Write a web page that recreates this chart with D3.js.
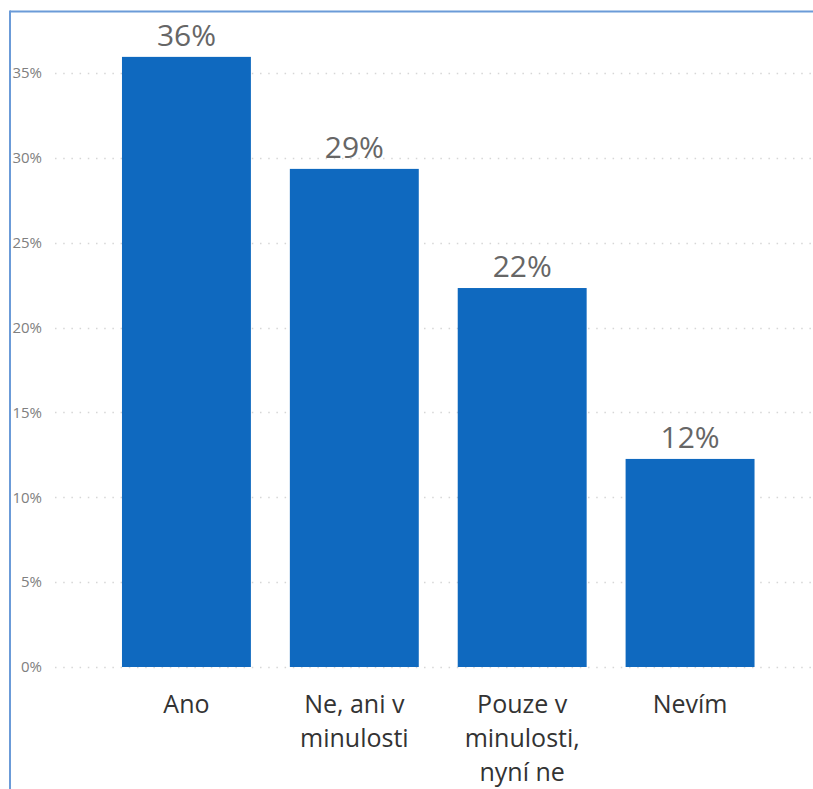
<!DOCTYPE html>
<html>
<head>
<meta charset="utf-8">
<script src="https://cdn.jsdelivr.net/npm/d3@7"></script>
<style>
  html, body { margin: 0; padding: 0; background: #fff; }
  svg { display: block; }
</style>
</head>
<body>
<svg id="chart" width="813" height="789"></svg>
<script>
const categories = ["Ano", "Ne, ani v minulosti", "Pouze v minulosti, nyní ne", "Nevím"];
const values = [35.95, 29.35, 22.33, 12.26];
const valueLabels = ["36%", "29%", "22%", "12%"];
const yTicks = [0, 5, 10, 15, 20, 25, 30, 35];

const W = 813, H = 789;
const svg = d3.select("#chart");
const font = "'Segoe UI', 'Open Sans', 'Noto Sans', sans-serif";

// frame
svg.append("line").attr("x1", 10).attr("x2", W).attr("y1", 11.5).attr("y2", 11.5)
  .attr("stroke", "#6b9bd8").attr("stroke-width", 2);
svg.append("line").attr("x1", 10).attr("x2", 10).attr("y1", 10.5).attr("y2", H)
  .attr("stroke", "#6b9bd8").attr("stroke-width", 2);

const x = d3.scaleBand().domain(categories).range([102.5, 774]).paddingInner(0.232).paddingOuter(0.116);
const y = d3.scaleLinear().domain([0, 35]).range([667, 73]);

// gridlines
svg.append("g").selectAll("line").data(yTicks).join("line")
  .attr("x1", 55).attr("x2", W)
  .attr("y1", d => Math.round(y(d)) + 0.5).attr("y2", d => Math.round(y(d)) + 0.5)
  .attr("stroke", "#d6d6d6").attr("stroke-width", 1.5)
  .attr("stroke-dasharray", "1.5,6.7");

// y axis labels
const yAxis = d3.axisLeft(y).tickValues(yTicks).tickFormat(d => d + "%").tickSize(0).tickPadding(0);
const ya = svg.append("g").attr("transform", "translate(42,0)").call(yAxis);
ya.select(".domain").remove();
ya.selectAll("text").attr("fill", "#808080").style("font-family", font).style("font-size", "15px");

// bars
svg.append("g").selectAll("rect").data(categories).join("rect")
  .attr("x", d => x(d)).attr("width", x.bandwidth())
  .attr("y", (d, i) => y(values[i])).attr("height", (d, i) => y(0) - y(values[i]))
  .attr("fill", "#0f69bf");

// value labels
svg.append("g").selectAll("text").data(categories).join("text")
  .attr("x", d => x(d) + x.bandwidth() / 2)
  .attr("y", (d, i) => y(values[i]) - 11)
  .attr("text-anchor", "middle")
  .attr("fill", "#666")
  .style("font-family", font).style("font-size", "30px")
  .text((d, i) => valueLabels[i]);

// x axis labels
const xAxis = d3.axisBottom(x).tickSize(0).tickPadding(0);
const xa = svg.append("g").attr("transform", `translate(0,${y(0)})`).call(xAxis);
xa.select(".domain").remove();
xa.selectAll("text")
  .attr("fill", "#333")
  .style("font-family", font).style("font-size", "25px")
  .attr("dy", null).attr("y", 0)
  .each(function(d) {
    const t = d3.select(this);
    const words = d.split(" ");
    t.text(null);
    const maxW = x.bandwidth() + 4;
    let lines = [], cur = [];
    const probe = t.append("tspan");
    words.forEach(w => {
      const test = cur.concat([w]).join(" ");
      probe.text(test);
      if (probe.node().getComputedTextLength() > maxW && cur.length) {
        lines.push(cur.join(" "));
        cur = [w];
      } else {
        cur.push(w);
      }
    });
    lines.push(cur.join(" "));
    probe.remove();
    lines.forEach((ln, i) => {
      t.append("tspan").attr("x", 0).attr("y", 46 + i * 34).text(ln);
    });
  });
</script>
</body>
</html>
